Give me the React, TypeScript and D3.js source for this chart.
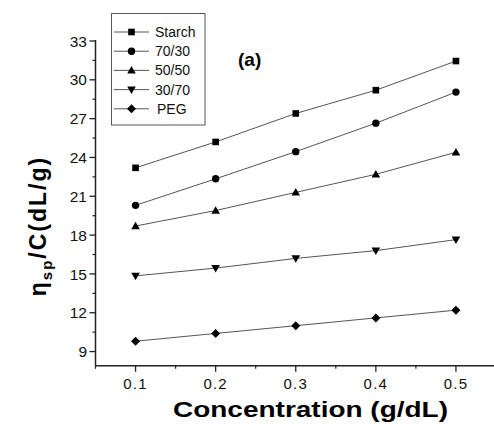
import { useEffect } from 'react'
import * as d3 from 'd3'

// concentrations (g/dL)
const conc = [0.1, 0.2, 0.3, 0.4, 0.5]

// reduced viscosity values
const starch = [23.2, 25.2, 27.4, 29.2, 31.45]
const blend7030 = [20.3, 22.35, 24.45, 26.65, 29.05]
const blend5050 = [18.7, 19.9, 21.3, 22.7, 24.4]
const blend3070 = [14.85, 15.45, 16.2, 16.8, 17.65]
const peg = [9.8, 10.4, 11.0, 11.6, 12.2]

const seriesNames = ['Starch', '70/30', '50/50', '30/70', 'PEG']
const markers = ['square', 'circle', 'triangle', 'triangleDown', 'diamond']

const yTicks = [9, 12, 15, 18, 21, 24, 27, 30, 33]
const xTicks = [0.1, 0.2, 0.3, 0.4, 0.5]

const W = 494
const H = 424
const FONT = '"Liberation Sans", Arial, sans-serif'

function Marker({ kind, x, y }: { kind: string; x: number; y: number }) {
  if (kind === 'square') return <rect x={x - 3.3} y={y - 3.3} width={6.6} height={6.6} fill="#000" />
  if (kind === 'circle') return <circle cx={x} cy={y} r={3.7} fill="#000" />
  if (kind === 'triangle')
    return <path d={`M${x},${y - 4.3}L${x + 4.3},${y + 3.2}L${x - 4.3},${y + 3.2}Z`} fill="#000" />
  if (kind === 'triangleDown')
    return <path d={`M${x},${y + 4.3}L${x + 4.3},${y - 3.2}L${x - 4.3},${y - 3.2}Z`} fill="#000" />
  return <path d={`M${x},${y - 4.5}L${x + 4.5},${y}L${x},${y + 4.5}L${x - 4.5},${y}Z`} fill="#000" />
}

export default function App() {
  useEffect(() => {
    document.body.style.margin = '0'
  }, [])

  const x = d3.scaleLinear().domain([0.05, 0.55]).range([95.5, 496])
  const y = d3.scaleLinear().domain([7.9, 33]).range([365.8, 41])

  const allSeries = [starch, blend7030, blend5050, blend3070, peg]
  const line = d3
    .line<number>()
    .x((_, i) => x(conc[i]))
    .y(d => y(d))

  const yMinor = d3.range(9, 33.01, 1.5).filter(v => !yTicks.includes(v))
  const xMinor = [0.05, 0.15, 0.25, 0.35, 0.45]

  const x0 = x(0.05)
  const yBase = y(7.9)

  return (
    <svg width={W} height={H} style={{ display: 'block', background: '#fff' }} fontFamily={FONT}>
      {/* series lines */}
      {allSeries.map((s, k) => (
        <path key={k} d={line(s) || ''} fill="none" stroke="#555" strokeWidth={1} />
      ))}
      {allSeries.map((s, k) =>
        s.map((v, i) => <Marker key={`${k}-${i}`} kind={markers[k]} x={x(conc[i])} y={y(v)} />)
      )}

      {/* y axis */}
      <line x1={x0} x2={x0} y1={y(33) - 1} y2={yBase} stroke="#222" strokeWidth={1.5} />
      {yTicks.map(t => (
        <g key={t}>
          <line x1={x0 - 6} x2={x0} y1={y(t)} y2={y(t)} stroke="#222" strokeWidth={1.3} />
          <text x={x0 - 8.5} y={y(t)} dy="0.36em" textAnchor="end" fontSize={15.5} fill="#111">
            {t}
          </text>
        </g>
      ))}
      {yMinor.map(t => (
        <line key={t} x1={x0 - 3} x2={x0} y1={y(t)} y2={y(t)} stroke="#222" strokeWidth={1.2} />
      ))}

      {/* x axis */}
      <line x1={x0} x2={W} y1={yBase} y2={yBase} stroke="#222" strokeWidth={1.5} />
      {xTicks.map(t => (
        <g key={t}>
          <line x1={x(t)} x2={x(t)} y1={yBase} y2={yBase + 6} stroke="#222" strokeWidth={1.3} />
          <text x={x(t)} y={yBase + 23} textAnchor="middle" fontSize={15} letterSpacing={1.2} fill="#111">
            {d3.format('.1f')(t)}
          </text>
        </g>
      ))}
      {xMinor.map(t => (
        <line key={t} x1={x(t)} x2={x(t)} y1={yBase} y2={yBase + 3} stroke="#222" strokeWidth={1.2} />
      ))}

      {/* axis titles */}
      <text
        x={310.5}
        y={417}
        textAnchor="middle"
        fontSize={22}
        fontWeight="bold"
        textLength={275}
        lengthAdjust="spacingAndGlyphs"
      >
        Concentration (g/dL)
      </text>
      <text
        transform="translate(46,226) rotate(-90)"
        textAnchor="middle"
        fontSize={23}
        fontWeight="bold"
        letterSpacing={2}
      >
        η<tspan fontSize={15} dy={6}>sp</tspan>
        <tspan dy={-6}>/C(dL/g)</tspan>
      </text>

      {/* panel label */}
      <text x={238} y={66} fontSize={19} fontWeight="bold">
        (a)
      </text>

      {/* legend */}
      <rect x={111.5} y={13.5} width={93.5} height={111.5} fill="#fff" stroke="#555" strokeWidth={1} />
      {seriesNames.map((name, k) => {
        const ly = 32 + k * 19.2
        return (
          <g key={name}>
            <line x1={114} x2={149} y1={ly} y2={ly} stroke="#555" strokeWidth={1} />
            <Marker kind={markers[k]} x={131.5} y={ly} />
            <text x={k === 4 ? 157 : 155} y={ly} dy="0.36em" fontSize={14} fill="#111">
              {name}
            </text>
          </g>
        )
      })}
    </svg>
  )
}
